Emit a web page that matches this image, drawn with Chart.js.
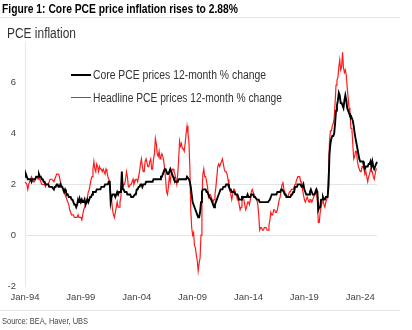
<!DOCTYPE html>
<html><head><meta charset="utf-8">
<script src="https://cdn.jsdelivr.net/npm/chart.js@4.4.1/dist/chart.umd.min.js"></script>
<style>
html,body{margin:0;padding:0;background:#fff;}
#wrap{position:relative;width:412px;height:330px;overflow:hidden;font-family:"Liberation Sans",Arial,sans-serif;}
#c{position:absolute;left:0;top:0;}
.t{position:absolute;white-space:nowrap;transform-origin:0 50%;}
.ln{position:absolute;}
</style></head><body>
<div id="wrap">
  <canvas id="c" width="412" height="330"></canvas>
  <div class="t" id="title" style="left:2px;top:2px;font-weight:bold;font-size:12.5px;line-height:14px;color:#000">Figure 1: Core PCE price inflation rises to 2.88%</div>
  <div class="ln" style="left:0;top:17px;width:400px;height:1px;background:#e6e6e6"></div>
  <div class="t" id="sub" style="left:7px;top:25px;font-size:14px;line-height:16px;color:#333">PCE inflation</div>
  <div class="ln" style="left:71px;top:74px;width:20px;height:2px;background:#000"></div>
  <div class="t" id="lg1" style="left:93px;top:68px;font-size:12px;line-height:14px;color:#333">Core PCE prices 12-month % change</div>
  <div class="ln" style="left:71px;top:97px;width:20px;height:1.3px;background:#ff1a1a"></div>
  <div class="t" id="lg2" style="left:93px;top:91px;font-size:12px;line-height:14px;color:#333">Headline PCE prices 12-month % change</div>
  <div class="ln" style="left:0;top:310px;width:400px;height:1px;background:#e6e6e6"></div>
  <div class="t" id="src" style="left:2px;top:315px;font-size:9.5px;line-height:12px;color:#444">Source: BEA, Haver, UBS</div>
</div>
<script>
// ---- data ----
const monthNames = ['Jan','Feb','Mar','Apr','May','Jun','Jul','Aug','Sep','Oct','Nov','Dec'];
const firstYear = 1994;
const lastYear = 2025;
const lastMonthCount = 7; // Jan..Jul 2025

const corePCE = [
// 1994
2.3,2.4,2.3,2.2,2.2,2.2,2.2,2.1,2.2,2.2,2.2,2.2,
// 1995
2.3,2.3,2.3,2.4,2.3,2.3,2.2,2.2,2.1,2.1,2.0,2.0,
// 1996
2.0,2.0,1.9,1.9,1.9,1.9,1.9,1.8,1.9,1.9,2.0,2.0,
// 1997
1.9,1.9,2.0,1.9,1.9,1.8,1.7,1.8,1.7,1.6,1.6,1.5,
// 1998
1.5,1.5,1.4,1.4,1.3,1.2,1.2,1.1,1.2,1.4,1.3,1.4,
// 1999
1.3,1.4,1.3,1.3,1.4,1.2,1.3,1.4,1.3,1.4,1.5,1.5,
// 2000
1.6,1.7,1.7,1.7,1.7,1.8,1.8,1.8,1.8,1.8,1.9,1.9,
// 2001
1.9,1.9,2.0,2.0,2.0,2.0,2.1,2.1,1.3,1.5,1.6,1.6,
// 2002
1.6,1.5,1.6,1.7,1.6,1.7,1.7,1.7,2.5,1.8,1.8,1.7,
// 2003
1.7,1.7,1.6,1.6,1.6,1.6,1.5,1.5,1.5,1.5,1.6,1.6,
// 2004
1.8,1.8,1.9,1.9,2.0,2.0,1.9,2.0,2.0,2.0,2.1,2.1,
// 2005
2.1,2.1,2.1,2.1,2.1,2.1,2.2,2.2,2.2,2.2,2.2,2.2,
// 2006
2.2,2.2,2.3,2.3,2.4,2.5,2.6,2.6,2.5,2.4,2.4,2.5,
// 2007
2.6,2.5,2.4,2.3,2.2,2.1,2.1,2.1,2.1,2.2,2.2,2.2,
// 2008
2.2,2.2,2.2,2.2,2.2,2.2,2.3,2.3,2.2,2.1,1.9,1.6,
// 2009
1.3,1.2,1.1,1.0,0.9,0.8,0.7,0.7,0.9,1.3,1.7,1.8,
// 2010
1.8,1.8,1.8,1.7,1.7,1.6,1.5,1.45,1.4,1.3,1.2,1.1,
// 2011
1.2,1.3,1.4,1.5,1.6,1.7,1.8,1.8,1.8,1.9,1.9,1.9,
// 2012
2.0,2.0,2.0,1.9,1.8,1.8,1.7,1.7,1.7,1.7,1.6,1.6,
// 2013
1.6,1.5,1.4,1.4,1.4,1.5,1.5,1.5,1.5,1.5,1.5,1.6,
// 2014
1.5,1.5,1.5,1.6,1.6,1.6,1.5,1.5,1.5,1.4,1.4,1.4,
// 2015
1.3,1.3,1.3,1.3,1.3,1.3,1.3,1.3,1.3,1.3,1.3,1.4,
// 2016
1.5,1.6,1.6,1.6,1.6,1.6,1.6,1.7,1.7,1.7,1.7,1.8,
// 2017
1.8,1.8,1.7,1.6,1.6,1.5,1.5,1.5,1.5,1.5,1.6,1.6,
// 2018
1.7,1.7,1.9,1.9,1.9,2.0,2.0,2.0,2.0,1.9,1.9,2.0,
// 2019
1.8,1.7,1.6,1.6,1.6,1.6,1.7,1.8,1.7,1.6,1.6,1.6,
// 2020
1.7,1.8,1.7,1.0,1.1,1.1,1.4,1.4,1.5,1.4,1.4,1.5,
// 2021
1.5,1.5,2.0,3.2,3.6,3.8,3.9,3.9,4.0,4.4,4.9,5.1,
// 2022
5.3,5.6,5.5,5.2,5.2,5.1,5.0,5.3,5.5,5.3,5.0,4.9,
// 2023
4.8,4.7,4.7,4.6,4.5,4.3,4.0,3.8,3.6,3.4,3.2,3.0,
// 2024
2.9,2.9,2.9,2.9,2.7,2.6,2.7,2.7,2.7,2.8,2.8,2.9,
// 2025
2.7,2.9,2.7,2.6,2.7,2.8,2.88
];

const headlinePCE = [
// 1994
2.1,2.1,2.0,1.8,2.0,2.1,2.2,2.3,2.2,2.1,2.1,2.2,
// 1995
2.3,2.3,2.2,2.3,2.2,2.1,2.0,2.0,2.0,2.0,1.9,2.0,
// 1996
2.0,2.0,2.1,2.2,2.2,2.2,2.2,2.1,2.2,2.3,2.4,2.4,
// 1997
2.4,2.3,2.1,2.0,1.9,1.8,1.7,1.6,1.5,1.4,1.3,1.2,
// 1998
1.0,0.9,0.8,0.8,0.8,0.7,0.7,0.7,0.7,0.8,0.7,0.7,
// 1999
0.7,0.6,0.8,1.0,1.1,1.2,1.3,1.5,1.7,1.8,2.0,2.2,
// 2000
2.3,2.6,2.9,2.6,2.5,2.8,2.7,2.5,2.7,2.6,2.6,2.5,
// 2001
2.6,2.5,2.4,2.6,2.5,2.3,2.2,2.1,1.6,1.4,1.0,0.8,
// 2002
0.7,0.9,1.1,1.3,1.1,1.1,1.3,1.5,2.4,1.9,2.0,2.0,
// 2003
2.2,2.5,2.3,1.9,1.9,2.0,2.0,2.1,2.2,2.0,2.1,2.2,
// 2004
2.2,2.1,2.3,2.5,2.8,3.0,2.7,2.5,2.5,2.9,3.0,3.0,
// 2005
2.7,2.7,2.9,3.0,2.6,2.6,3.0,3.2,3.8,3.6,3.2,3.1,
// 2006
3.3,3.0,3.1,3.2,3.1,2.9,2.6,2.2,1.7,1.6,1.9,2.3,
// 2007
2.1,2.4,2.6,2.6,2.5,2.4,2.2,2.0,2.4,3.0,3.7,3.5,
// 2008
3.6,3.4,3.4,3.3,3.6,4.0,4.3,4.0,3.7,2.7,1.0,0.3,
// 2009
0.0,0.1,-0.4,-0.5,-0.8,-1.0,-1.4,-1.1,-0.9,0.0,1.4,2.4,
// 2010
2.6,2.3,2.3,2.1,1.9,1.5,1.6,1.6,1.5,1.4,1.3,1.4,
// 2011
1.6,1.9,2.3,2.7,2.8,2.7,2.8,2.9,3.0,2.8,2.6,2.5,
// 2012
2.5,2.4,2.2,1.9,1.8,1.6,1.4,1.6,1.8,1.8,1.6,1.6,
// 2013
1.4,1.5,1.2,1.0,1.1,1.4,1.5,1.4,1.2,1.0,1.1,1.3,
// 2014
1.3,1.2,1.4,1.7,1.8,1.7,1.6,1.5,1.5,1.4,1.2,0.8,
// 2015
0.2,0.3,0.3,0.2,0.2,0.3,0.3,0.3,0.2,0.2,0.4,0.6,
// 2016
0.9,0.8,0.8,1.0,1.0,0.9,0.9,1.0,1.2,1.4,1.5,1.7,
// 2017
2.0,2.1,1.8,1.7,1.5,1.5,1.5,1.6,1.7,1.7,1.8,1.8,
// 2018
1.8,1.9,2.0,2.1,2.2,2.3,2.3,2.3,2.1,2.1,1.8,1.6,
// 2019
1.4,1.3,1.4,1.5,1.4,1.3,1.4,1.4,1.3,1.4,1.5,1.6,
// 2020
1.8,1.8,1.3,0.5,0.5,0.9,1.1,1.3,1.4,1.2,1.1,1.3,
// 2021
1.4,1.6,2.5,3.7,4.1,4.1,4.3,4.4,4.6,5.2,5.9,6.1,
// 2022
6.2,6.6,6.9,6.5,6.6,7.2,6.6,6.4,6.5,6.3,5.8,5.4,
// 2023
5.0,4.8,4.2,4.2,3.6,3.0,3.1,3.3,3.3,2.9,2.7,2.6,
// 2024
2.5,2.5,2.7,2.7,2.6,2.4,2.5,2.3,2.1,2.3,2.4,2.6,
// 2025
2.5,2.5,2.3,2.2,2.4,2.6,2.6
];

const xTickLabels = ['Jan-94','Jan-99','Jan-04','Jan-09','Jan-14','Jan-19','Jan-24'];
const yTickValues = [-2, 0, 2, 4, 6];
const gridValues = [0, 2];
const seriesNames = ['Core PCE prices 12-month % change', 'Headline PCE prices 12-month % change'];

// month categories
const categories = [];
for (let y = firstYear; y <= lastYear; y++) {
  const n = (y === lastYear) ? lastMonthCount : 12;
  for (let m = 0; m < n; m++) categories.push(monthNames[m] + '-' + String(y).slice(2));
}

// ---- chart ----
const tickFont = {family: '"Liberation Sans", Arial, sans-serif', size: 9.5};
new Chart(document.getElementById('c'), {
  type: 'line',
  data: {
    labels: categories,
    datasets: [
      {label: seriesNames[0], data: corePCE, borderColor: '#000000', borderWidth: 1.9, pointRadius: 0, tension: 0, fill: false},
      {label: seriesNames[1], data: headlinePCE, borderColor: '#ff1a1a', borderWidth: 1.2, pointRadius: 0, tension: 0, fill: false}
    ]
  },
  options: {
    responsive: false,
    animation: false,
    events: [],
    layout: {padding: {top: 42, right: 35, bottom: 24, left: 0}},
    plugins: {legend: {display: false}, tooltip: {enabled: false}, title: {display: false}},
    scales: {
      x: {
        type: 'category',
        offset: false,
        grid: {display: false, drawTicks: false},
        border: {display: false},
        ticks: {autoSkip: false, maxRotation: 0, minRotation: 0, padding: 6, color: '#444', font: tickFont,
          callback: function(v, i) { return this.getLabelForValue(v); }},
        afterBuildTicks: (s) => { s.ticks = s.ticks.filter(t => xTickLabels.includes(categories[t.value])); },
        afterFit: (s) => { s.height = 20; }
      },
      y: {
        min: -2, max: 7.6,
        grid: {drawTicks: false, color: (ctx) => (ctx.tick && gridValues.includes(ctx.tick.value)) ? '#e4e4e4' : 'rgba(0,0,0,0)', lineWidth: 1},
        border: {display: true, color: '#e8e8e8', width: 1},
        ticks: {padding: 9, color: '#444', font: tickFont},
        afterBuildTicks: (s) => { s.ticks = yTickValues.map(v => ({value: v})); },
        afterFit: (s) => { s.width = 25; }
      }
    }
  }
});

// fit text widths to reference
function fit(id, w) {
  const e = document.getElementById(id);
  const r = e.getBoundingClientRect().width;
  if (r > 0) e.style.transform = 'scaleX(' + (w / r) + ')';
}
fit('title', 236);
fit('sub', 69);
fit('lg1', 173);
fit('lg2', 189);
fit('src', 86);
</script>
</body></html>
